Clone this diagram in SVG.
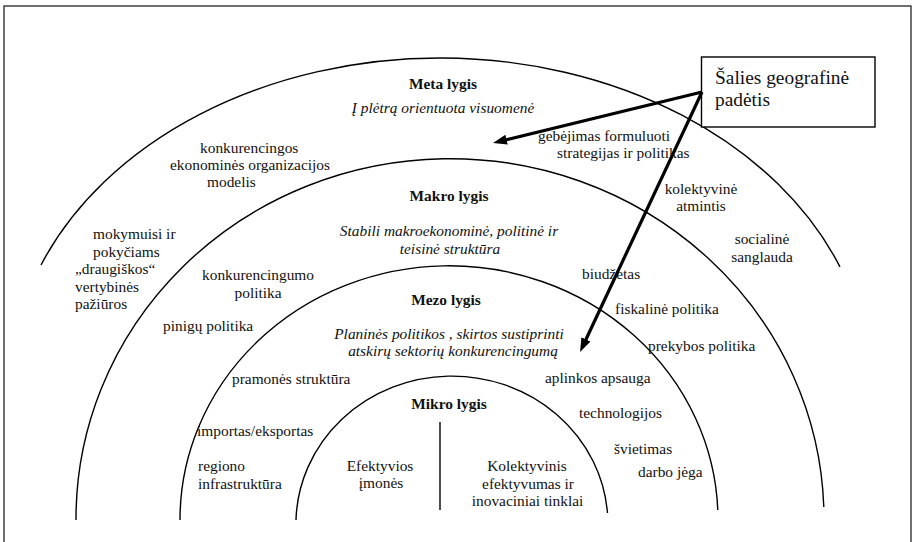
<svg xmlns="http://www.w3.org/2000/svg" width="914" height="542" viewBox="0 0 914 542">
<style>
  text { font-family: "Liberation Serif", "DejaVu Serif", serif; font-size: 15.4px; fill: #111; }
  .b { font-weight: bold; }
  .i { font-style: italic; }
  .m { text-anchor: middle; }
  .arc { fill: none; stroke: #000; stroke-width: 1.4; }
  .conn { fill: none; stroke: #000; stroke-width: 3.2; }
  .box { fill: #fff; stroke: #000; stroke-width: 1.4; }
  .big { font-size: 19.4px; }
</style>
<defs>
  <marker id="ah" markerUnits="userSpaceOnUse" markerWidth="15" markerHeight="11" refX="7" refY="5" orient="auto">
    <path d="M0,0 L14,5 L0,10 z" fill="#000"/>
  </marker>
</defs>
<rect x="0" y="0" width="914" height="542" fill="#fff"/>
<rect x="4" y="6" width="907" height="545" fill="none" stroke="#333" stroke-width="1.4"/>

<g id="levels">
  <path id="meta-arc" class="arc" d="M41 265 A430 330 0 0 1 840 266.9"/>
  <path id="makro-arc" class="arc" d="M76 520 A374 360 0 0 1 823.8 507"/>
  <path id="mezo-arc" class="arc" d="M180 520 A269 254 0 0 1 717.8 510"/>
  <path id="mikro-arc" class="arc" d="M296 520 A156 148 0 0 1 607.5 513"/>
  <line id="mikro-divider" x1="440" y1="422" x2="440" y2="510" stroke="#000" stroke-width="1.4"/>
</g>

<g id="meta">
  <text class="b m" x="443" y="89">Meta lygis</text>
  <text class="i m" x="443" y="113">Į plėtrą orientuota visuomenė</text>
  <text x="538" y="141">gebėjimas formuluoti</text>
  <text x="557" y="158">strategijas ir politikas</text>
  <text x="200" y="153">konkurencingos</text>
  <text x="170" y="170">ekonominės organizacijos</text>
  <text x="207" y="187">modelis</text>
  <text x="93" y="239">mokymuisi ir</text>
  <text x="93" y="256.5">pokyčiams</text>
  <text x="75" y="274">„draugiškos“</text>
  <text x="75" y="291.5">vertybinės</text>
  <text x="75" y="309">pažiūros</text>
  <text class="m" x="701" y="194">kolektyvinė</text>
  <text class="m" x="701" y="211">atmintis</text>
  <text class="m" x="762" y="244">socialinė</text>
  <text class="m" x="762" y="262">sanglauda</text>
</g>

<g id="makro">
  <text class="b m" x="449" y="201">Makro lygis</text>
  <text class="i m" x="449" y="236">Stabili makroekonominė, politinė ir</text>
  <text class="i m" x="450" y="254">teisinė struktūra</text>
  <text class="m" x="258" y="280">konkurencingumo</text>
  <text class="m" x="258" y="298">politika</text>
  <text x="582" y="279">biudžetas</text>
  <text x="615" y="314">fiskalinė politika</text>
  <text x="648" y="351">prekybos politika</text>
  <text x="163" y="331">pinigų politika</text>
</g>

<g id="mezo">
  <text class="b m" x="446" y="305">Mezo lygis</text>
  <text class="i m" x="449" y="339">Planinės politikos , skirtos sustiprinti</text>
  <text class="i m" x="453" y="356">atskirų sektorių konkurencingumą</text>
  <text x="232" y="384">pramonės struktūra</text>
  <text x="545" y="383">aplinkos apsauga</text>
  <text x="579" y="418">technologijos</text>
  <text x="197" y="436">importas/eksportas</text>
  <text x="614" y="454">švietimas</text>
  <text x="638" y="477">darbo jėga</text>
  <text x="198" y="471">regiono</text>
  <text x="198" y="489">infrastruktūra</text>
</g>

<g id="mikro">
  <text class="b m" x="449" y="409">Mikro lygis</text>
  <text class="m" x="380" y="471">Efektyvios</text>
  <text class="m" x="381" y="488">įmonės</text>
  <text class="m" x="527" y="471">Kolektyvinis</text>
  <text class="m" x="528" y="489">efektyvumas ir</text>
  <text class="m" x="527.5" y="506">inovaciniai tinklai</text>
</g>

<g id="geo-box">
  <rect class="box" x="701.5" y="57" width="173.5" height="70"/>
  <text class="big" x="715" y="84">Šalies geografinė</text>
  <text class="big" x="715" y="106">padėtis</text>
</g>

<g id="connectors">
  <line class="conn" x1="702" y1="92" x2="499.8" y2="141.3" marker-end="url(#ah)"/>
  <line class="conn" x1="702" y1="92" x2="583" y2="345.7" marker-end="url(#ah)"/>
</g>
</svg>
